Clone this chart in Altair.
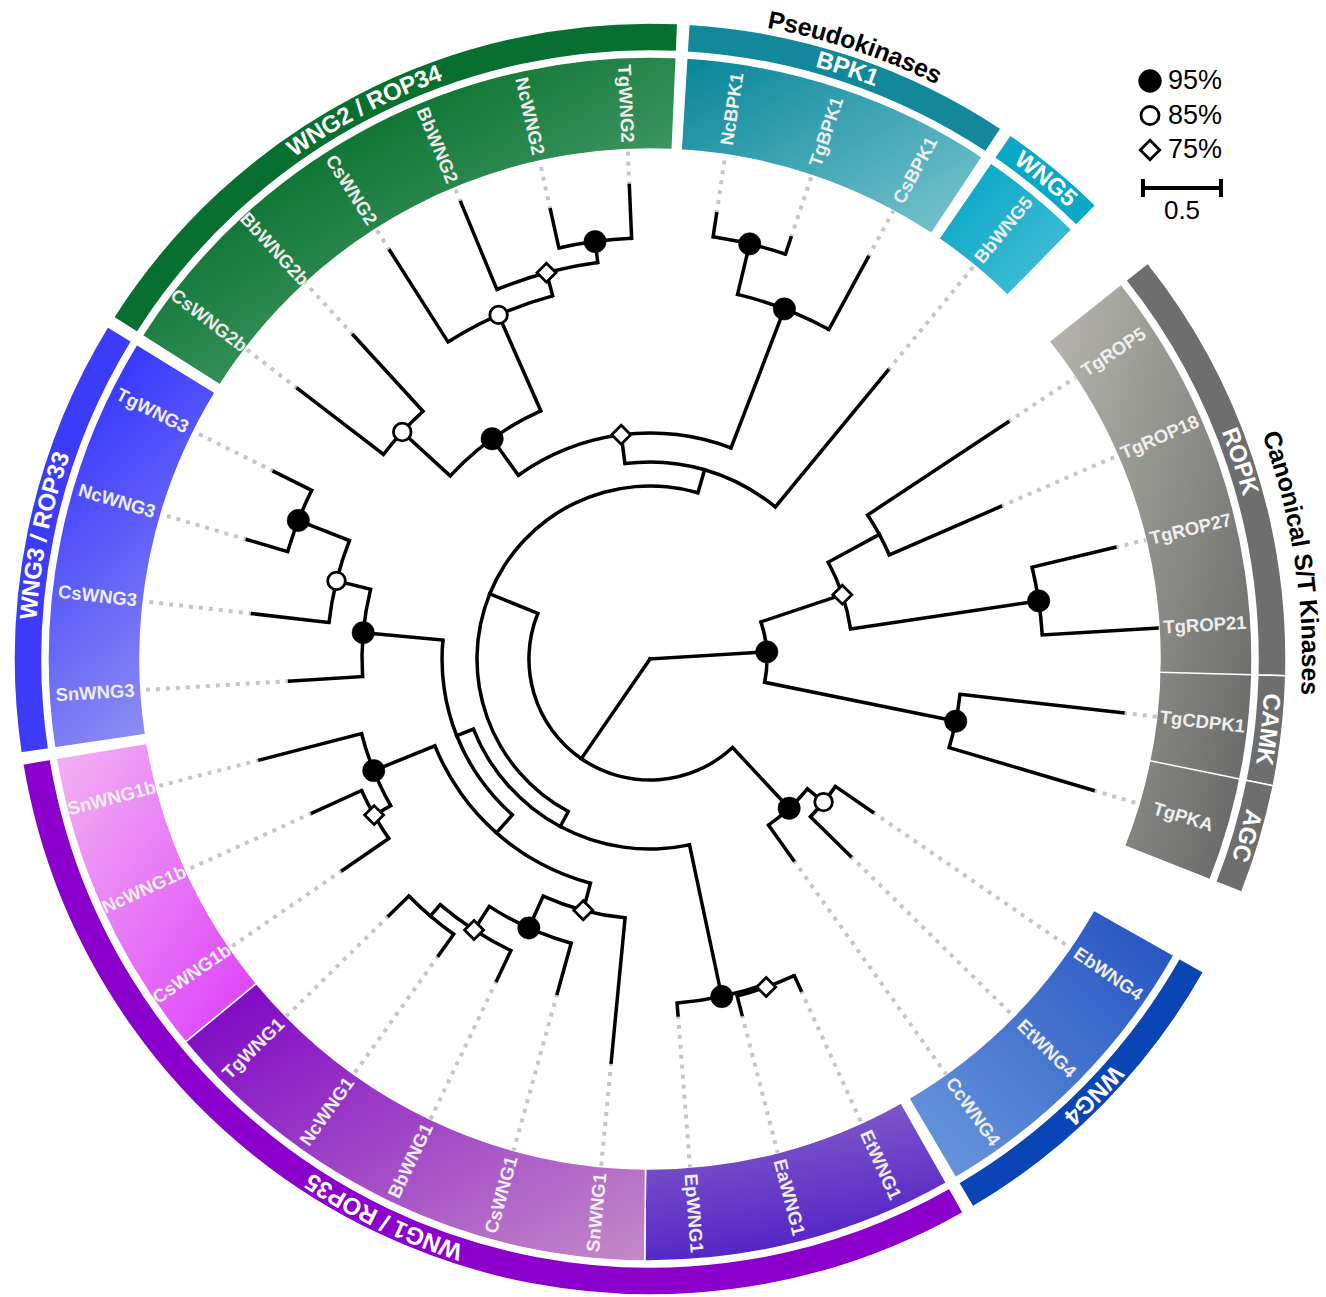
import math
import altair as alt
import pandas as pd

# ---------------------------------------------------------------------------
# Tree: leaves in clockwise order, starting just after the opening gap
# ---------------------------------------------------------------------------
LEAVES = ["TgROP5", "TgROP18", "TgROP27", "TgROP21", "TgCDPK1", "TgPKA",
          "EbWNG4", "EtWNG4", "CcWNG4",
          "EtWNG1", "EaWNG1", "EpWNG1", "SnWNG1", "CsWNG1", "BbWNG1", "NcWNG1",
          "TgWNG1", "CsWNG1b", "NcWNG1b", "SnWNG1b",
          "SnWNG3", "CsWNG3", "NcWNG3", "TgWNG3",
          "CsWNG2b", "BbWNG2b", "CsWNG2", "BbWNG2", "NcWNG2", "TgWNG2",
          "NcBPK1", "TgBPK1", "CsBPK1",
          "BbWNG5"]
LEAF_PARENT = ["R518", "R518", "R2721", "R2721", "CDPKA", "CDPKA",
               "EbEt", "EbEt", "WNG4",
               "EaEt", "EaEt", "EEE", "W1d", "W1f", "W1dd", "TgNc1",
               "TgNc1", "W1bd", "W1bd", "W1b",
               "WNG3", "W3o", "NcTg3", "NcTg3",
               "W2b", "W2b", "W2o", "W2d", "NcTg2", "NcTg2",
               "NcTgB", "NcTgB", "BPK1",
               "Y"]
# distance from the root (substitutions / site)
LEAF_DEPTH = [2.750, 2.449, 3.064, 3.256, 3.051, 2.962,
              1.731, 1.801, 1.583,
              2.333, 2.353, 2.288, 2.596, 2.224, 2.282, 2.333,
              2.346, 2.391, 2.378, 2.583,
              2.314, 2.564, 2.692, 2.692,
              2.846, 2.814, 3.103, 3.167, 2.949, 3.038,
              2.885, 2.846, 2.929,
              2.397]

NODES = ["root", "Ncan", "ROPK", "R518", "R2721", "CDPKA",
         "ArcB", "WNG4", "EbEt", "ArcA", "Y", "Dtop", "BPK1", "NcTgB",
         "WNG2", "W2b", "W2o", "W2d", "NcTg2",
         "ArcD", "ArcG", "WNG3", "W3o", "NcTg3",
         "ArcE", "W1b", "W1bd", "W1d", "W1f", "W1dd", "TgNc1",
         "EEE", "EaEt"]
NODE_PARENT = [None, "root", "Ncan", "ROPK", "ROPK", "Ncan",
               "root", "ArcB", "WNG4", "ArcB", "ArcA", "Y", "Dtop", "BPK1",
               "Dtop", "WNG2", "WNG2", "W2o", "W2d",
               "ArcA", "ArcD", "ArcG", "WNG3", "W3o",
               "ArcG", "ArcE", "W1b", "ArcE", "W1d", "W1f", "W1dd",
               "ArcD", "EEE"]
NODE_DEPTH = [0.0, 0.750, 1.300, 1.673, 2.519, 2.000,
              0.776, 1.308, 1.442, 1.109, 1.263, 1.449, 2.404, 2.737,
              1.737, 2.154, 2.410, 2.564, 2.699,
              1.218, 1.333, 1.846, 2.071, 2.423,
              1.487, 1.910, 2.032, 1.667, 1.891, 2.071, 2.167,
              2.212, 2.231]
# bootstrap class of each node ("" = below 75 %)
NODE_SUPPORT = ["", "95", "75", "", "95", "95",
                "", "95", "85", "", "", "75", "95", "95",
                "95", "85", "85", "75", "95",
                "", "", "95", "85", "95",
                "", "95", "75", "75", "95", "75", "",
                "95", "75"]

# clade blocks around the ring (leaf counts, in LEAVES order)
GROUP_SIZES = [6, 3, 11, 4, 6, 3, 1]

# leaf-label wedges: first leaf, last leaf, gradient stops, gradient direction
WEDGES = [
    ("TgROP5", "TgPKA", [(0.0, "#b3b3ab"), (1.0, "#686868")], (0.0, 0.15, 1.0, 0.85)),
    ("EbWNG4", "CcWNG4", [(0.0, "#2150c0"), (1.0, "#6c9ade")], (1.0, 0.0, 0.0, 1.0)),
    ("EtWNG1", "EpWNG1", [(0.0, "#8662c8"), (1.0, "#4f20c6")], (0.2, 0.0, 0.5, 1.0)),
    ("SnWNG1", "TgWNG1", [(0.0, "#7a00c4"), (1.0, "#c48ac8")], (0.0, 0.0, 1.0, 1.0)),
    ("CsWNG1b", "SnWNG1b", [(0.0, "#f2b4f2"), (1.0, "#dc3cfa")], (0.0, 0.0, 1.0, 1.0)),
    ("SnWNG3", "TgWNG3", [(0.0, "#2f2fff"), (1.0, "#9494f0")], (0.3, 0.0, 0.7, 1.0)),
    ("CsWNG2b", "TgWNG2", [(0.2, "#006a25"), (1.0, "#70b890")], (0.0, 0.0, 1.0, 1.0)),
    ("NcBPK1", "CsBPK1", [(0.0, "#078598"), (1.0, "#7cc6d0")], (0.0, 0.0, 1.0, 1.0)),
    ("BbWNG5", "BbWNG5", [(0.0, "#00a4c4"), (1.0, "#4cc0d8")], (0.0, 0.0, 1.0, 1.0)),
]

# outer annotation bands: first leaf, last leaf, label, colour
BANDS = [
    ("TgROP5", "TgROP21", "ROPK", "#6e6e6e"),
    ("TgCDPK1", "TgCDPK1", "CAMK", "#6e6e6e"),
    ("TgPKA", "TgPKA", "AGC", "#6e6e6e"),
    ("EbWNG4", "CcWNG4", "WNG4", "#0a45b5"),
    ("EtWNG1", "SnWNG1b", "WNG1 / ROP35", "#8c00cc"),
    ("SnWNG3", "TgWNG3", "WNG3 / ROP33", "#3c3cf8"),
    ("CsWNG2b", "TgWNG2", "WNG2 / ROP34", "#077030"),
    ("NcBPK1", "CsBPK1", "BPK1", "#13889b"),
    ("BbWNG5", "BbWNG5", "WNG5", "#08a8c6"),
]
# family labels written outside the ring (first leaf, last leaf, text, radius)
SUPER_LABELS = [
    ("TgROP5", "TgPKA", "Canonical S/T Kinases", 660),
    ("NcBPK1", "CsBPK1", "Pseudokinases", 650),
]
LEGEND_LABELS = ["95%", "85%", "75%"]
LEGEND_KINDS = ["95", "85", "75"]
SCALE_BAR = 0.5

# ---------------------------------------------------------------------------
# Layout constants
# ---------------------------------------------------------------------------
W, H = 1326, 1297
CX, CY = 650, 659           # ring centre in page pixels
PX = 156.0                  # pixels per substitution / site
START = 56.5                # angle of the first leaf (deg, clockwise from 12 o'clock)
STEP = 10.0
GROUP_PADS = [8.0, 1.0, 1.0, 1.0, 1.0, 1.0]
WEDGE_IN, WEDGE_OUT = 510, 602
BAND_IN, BAND_OUT = 608, 636
LABEL_R = 556
BRANCH_W = 3.5
FONT = "Liberation Sans"

# leaf angles
leaf_angle = []
a = START
for gi, n in enumerate(GROUP_SIZES):
    for _ in range(n):
        leaf_angle.append(a)
        a += STEP
    if gi < len(GROUP_PADS):
        a += GROUP_PADS[gi]

ang = dict(zip(LEAVES, leaf_angle))
depth = dict(zip(LEAVES, LEAF_DEPTH))
depth.update(zip(NODES, NODE_DEPTH))
parent = dict(zip(LEAVES, LEAF_PARENT))
parent.update({n: p for n, p in zip(NODES, NODE_PARENT) if p})
children = {n: [] for n in NODES}
for c, p in parent.items():
    children[p].append(c)


def node_angle(n):
    if n not in ang:
        kids = [node_angle(c) for c in children[n]]
        ang[n] = sum(kids) / len(kids)
    return ang[n]


node_angle("root")

# ---------------------------------------------------------------------------
# Scales shared by every layer
# ---------------------------------------------------------------------------
XS = alt.Scale(domain=[-CX, W - CX], nice=False, zero=False)
YS = alt.Scale(domain=[CY - H, CY], nice=False, zero=False)
TS = alt.Scale(domain=[0, 360], range=[0, 2 * math.pi])
RS = alt.Scale(type="linear", domain=[0, 1000], range=[0, 1000], zero=True, nice=False)
CENTER = dict(x=alt.XDatum(0, type="quantitative", scale=XS, axis=None),
              y=alt.YDatum(0, type="quantitative", scale=YS, axis=None))
XY = dict(x=alt.X("x:Q", scale=XS, axis=None), y=alt.Y("y:Q", scale=YS, axis=None))


def arc_chart(df, **mark):
    return alt.Chart(df).mark_arc(**mark).encode(
        theta=alt.Theta("a0:Q", scale=TS, stack=None),
        theta2=alt.Theta2("a1"),
        radius=alt.Radius("r0:Q", scale=RS),
        radius2=alt.Radius2("r1"),
        **CENTER,
    )


def polar_xy(chart, r_expr, a_field="a", xn="x", yn="y"):
    return chart.transform_calculate(
        **{xn: f"({r_expr})*sin(datum.{a_field}*PI/180)",
           yn: f"({r_expr})*cos(datum.{a_field}*PI/180)"})


def span(first, last, pad=5.0):
    return ang[first] - pad, ang[last] + pad


BOLD_W = dict(zip("ABCDEFGHIJKLMNOPQRSTUVWXYZ",
                  [722, 722, 722, 722, 667, 611, 778, 722, 278, 556, 722, 611, 833,
                   722, 778, 667, 778, 722, 667, 611, 722, 667, 944, 667, 667, 611]))
BOLD_W.update(zip("abcdefghijklmnopqrstuvwxyz",
                  [556, 611, 556, 611, 556, 333, 611, 611, 278, 278, 556, 278, 889,
                   611, 611, 611, 611, 389, 556, 333, 611, 556, 778, 556, 556, 500]))
BOLD_W.update({d: 556 for d in "0123456789"})
BOLD_W.update({" ": 278, "/": 278})


def curved_chars(label, center, radius, size):
    widths = [BOLD_W.get(ch, 600) * size / 1000.0 for ch in label]
    s = -sum(widths) / 2.0
    rows = []
    for ch, w in zip(label, widths):
        a_ch = center + math.degrees((s + w / 2.0) / radius)
        rows.append({"t": ch, "a": a_ch, "r": radius, "rot": a_ch % 360})
        s += w
    return rows


layers = []

# --- leaf-label wedges -----------------------------------------------------
for first, last, stops, (x1, y1, x2, y2) in WEDGES:
    a0, a1 = span(first, last)
    grad = alt.LinearGradient(
        gradient="linear",
        stops=[alt.GradientStop(offset=o, color=c) for o, c in stops],
        x1=x1, y1=y1, x2=x2, y2=y2)
    df = pd.DataFrame([{"a0": a0, "a1": a1, "r0": WEDGE_IN, "r1": WEDGE_OUT}])
    layers.append(arc_chart(df, fill=grad, stroke="white", strokeWidth=1.5))

# thin separators between band sub-families inside the grey wedge
sep_rows = [{"a": ang[last] + STEP / 2} for _, last, _, _ in BANDS[:2]]
sep = polar_xy(polar_xy(alt.Chart(pd.DataFrame(sep_rows)), str(WEDGE_IN)),
               str(WEDGE_OUT), xn="x2", yn="y2")
layers.append(sep.mark_rule(color="white", strokeWidth=1.5).encode(
    x2="x2:Q", y2="y2:Q", **XY))

# --- outer bands ------------------------------------------------------------
band_rows = []
for first, last, label, color in BANDS:
    a0, a1 = span(first, last)
    band_rows.append({"a0": a0, "a1": a1, "r0": BAND_IN, "r1": BAND_OUT, "c": color})
layers.append(arc_chart(pd.DataFrame(band_rows), stroke="white", strokeWidth=1.5).encode(
    fill=alt.Fill("c:N", scale=None)))

# --- dotted leaders from tips to the wedges ---------------------------------
tips = pd.DataFrame({"a": [ang[l] for l in LEAVES], "d": LEAF_DEPTH})
dots = polar_xy(polar_xy(alt.Chart(tips), f"datum.d*{PX}"), str(WEDGE_IN), xn="x2", yn="y2")
layers.append(dots.mark_rule(color="#c6c6c6", strokeWidth=4, strokeDash=[4, 6]).encode(
    x2="x2:Q", y2="y2:Q", **XY))

# --- tree branches ----------------------------------------------------------
radial = pd.DataFrame([{"a": ang[c], "d0": depth[p], "d1": depth[c]}
                       for c, p in parent.items()])
rad = polar_xy(polar_xy(alt.Chart(radial), f"datum.d0*{PX}"), f"datum.d1*{PX}",
               xn="x2", yn="y2")
layers.append(rad.mark_rule(color="black", strokeWidth=BRANCH_W, strokeCap="square").encode(
    x2="x2:Q", y2="y2:Q", **XY))

arc_rows = []
for n in NODES:
    if depth[n] > 0:
        ks = [ang[c] for c in children[n]]
        r = depth[n] * PX
        arc_rows.append({"a0": min(ks), "a1": max(ks),
                         "r0": r - BRANCH_W / 2, "r1": r + BRANCH_W / 2})
layers.append(arc_chart(pd.DataFrame(arc_rows), fill="black"))

# --- support markers --------------------------------------------------------
MARKS = {
    "95": dict(shape="circle", filled=True, fill="black", stroke="black", strokeWidth=0.5, size=500),
    "85": dict(shape="circle", filled=True, fill="white", stroke="black", strokeWidth=2.8, size=310),
    "75": dict(shape="diamond", filled=True, fill="white", stroke="black", strokeWidth=2.8, size=360),
}
nodes_df = pd.DataFrame({"n": NODES, "a": [ang[n] for n in NODES],
                         "d": NODE_DEPTH, "s": NODE_SUPPORT})
for kind, style in MARKS.items():
    sub = nodes_df[nodes_df["s"] == kind]
    ch = polar_xy(alt.Chart(sub), f"datum.d*{PX}")
    layers.append(ch.mark_point(opacity=1, **style).encode(**XY))

# --- leaf labels ------------------------------------------------------------
lab = pd.DataFrame({"t": LEAVES, "a": [ang[l] for l in LEAVES]})
lab["rot"] = [((a - 90) if (a % 360) < 180 else (a + 90)) % 360 for a in lab["a"]]
labc = polar_xy(alt.Chart(lab), str(LABEL_R))
layers.append(labc.mark_text(font=FONT, fontWeight="bold", fontSize=18.5, color="#eeeeee",
                             align="center", baseline="middle").encode(
    angle=alt.Angle("rot:Q", scale=None), text="t:N", **XY))

# --- curved band labels -----------------------------------------------------
band_chars = []
for first, last, label, _ in BANDS:
    a0, a1 = span(first, last)
    band_chars += curved_chars(label, (a0 + a1) / 2, (BAND_IN + BAND_OUT) / 2, 24)
bc = polar_xy(alt.Chart(pd.DataFrame(band_chars)), "datum.r")
layers.append(bc.mark_text(font=FONT, fontWeight="bold", fontSize=24, color="white",
                           align="center", baseline="middle").encode(
    angle=alt.Angle("rot:Q", scale=None), text="t:N", **XY))

super_chars = []
for first, last, label, radius in SUPER_LABELS:
    a0, a1 = span(first, last)
    super_chars += curved_chars(label, (a0 + a1) / 2, radius, 25)
sc = polar_xy(alt.Chart(pd.DataFrame(super_chars)), "datum.r")
layers.append(sc.mark_text(font=FONT, fontWeight="bold", fontSize=25, color="black",
                           align="center", baseline="middle").encode(
    angle=alt.Angle("rot:Q", scale=None), text="t:N", **XY))

# --- legend and scale bar (top right) ---------------------------------------
LEG_X, LEG_Y, LEG_DY = 1150, 81, 34.5
for i, (txt, kind) in enumerate(zip(LEGEND_LABELS, LEGEND_KINDS)):
    row = pd.DataFrame([{"x": LEG_X - CX, "y": CY - (LEG_Y + i * LEG_DY),
                         "tx": LEG_X + 18 - CX, "t": txt}])
    style = dict(MARKS[kind])
    style["size"] = style["size"] * 1.05
    layers.append(alt.Chart(row).mark_point(opacity=1, **style).encode(**XY))
    layers.append(alt.Chart(row).mark_text(font=FONT, fontSize=27, color="black",
                                           align="left", baseline="middle").encode(
        x=alt.X("tx:Q", scale=XS, axis=None), y=alt.Y("y:Q", scale=YS, axis=None),
        text="t:N"))

SB_X, SB_Y = 1143, 188
bar_len = SCALE_BAR * PX
bar = pd.DataFrame([
    {"x": SB_X - CX, "x2": SB_X + bar_len - CX, "y": CY - SB_Y, "y2": CY - SB_Y},
    {"x": SB_X - CX, "x2": SB_X - CX, "y": CY - SB_Y + 9, "y2": CY - SB_Y - 9},
    {"x": SB_X + bar_len - CX, "x2": SB_X + bar_len - CX, "y": CY - SB_Y + 9, "y2": CY - SB_Y - 9},
])
layers.append(alt.Chart(bar).mark_rule(color="black", strokeWidth=4).encode(
    x2="x2:Q", y2="y2:Q", **XY))
bar_lab = pd.DataFrame([{"x": SB_X + bar_len / 2 - CX, "y": CY - (SB_Y + 23), "t": str(SCALE_BAR)}])
layers.append(alt.Chart(bar_lab).mark_text(font=FONT, fontSize=26, color="black",
                                           align="center", baseline="middle").encode(
    text="t:N", **XY))

chart = alt.layer(*layers).properties(
    width=W, height=H, padding=0, autosize="none"
).configure_view(stroke=None)

chart.save("out.html", embed_options={"renderer": "svg", "actions": False})
